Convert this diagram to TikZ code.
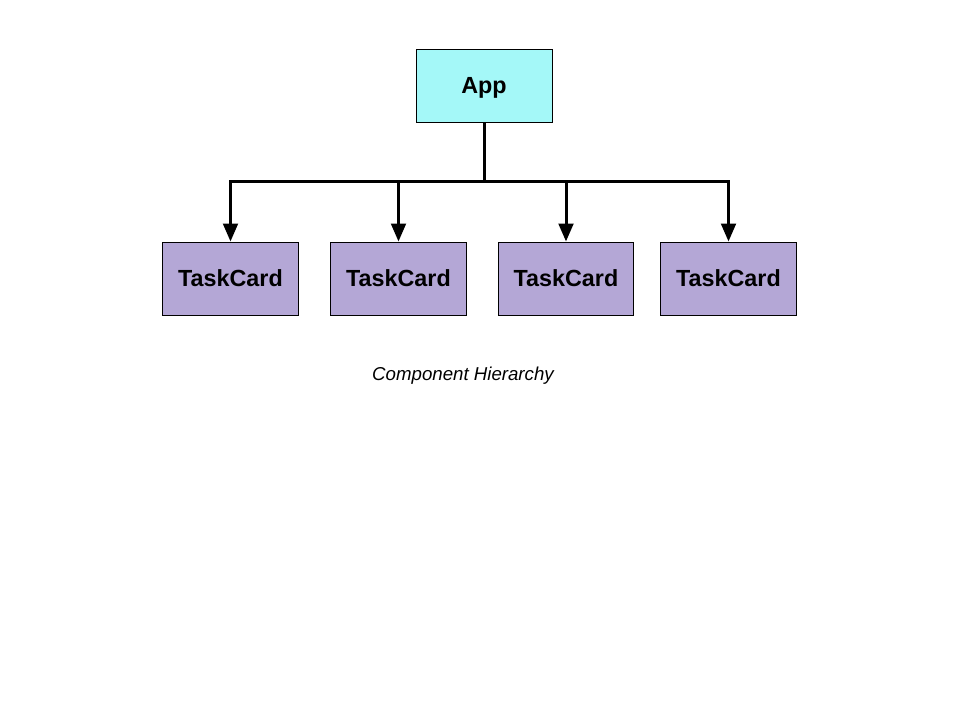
\documentclass[tikz,border=0pt]{standalone}
\usepackage{fontspec}
\setmainfont{Liberation Sans}
\usetikzlibrary{arrows.meta}
\definecolor{appfill}{HTML}{A4F8F8}
\definecolor{cardfill}{HTML}{B4A7D6}
\begin{document}
\begin{tikzpicture}[x=0.75pt,y=-0.75pt,
  box/.style={draw=black,line width=0.7pt,minimum width=101.5pt,minimum height=54.75pt,inner sep=0pt,text height=12.5pt,text depth=0pt,font=\fontsize{17.5}{20}\selectfont\bfseries},
  appbox/.style={box,fill=appfill,minimum width=102pt},
  cardbox/.style={box,fill=cardfill},
  conn/.style={line width=2.25pt,-{Triangle[width=11pt,length=13.5pt]}}]
\useasboundingbox[fill=white] (0,0) rectangle (960,720);
\node[appbox] (app) at (484,85.5) {App};
\node[cardbox] (c1) at (230.5,278.5) {TaskCard};
\node[cardbox] (c2) at (398.5,278.5) {TaskCard};
\node[cardbox] (c3) at (566,278.5) {TaskCard};
\node[cardbox] (c4) at (728.5,278.5) {TaskCard};
\coordinate (bus) at (484,182);
\draw[conn] (app.south) -- (bus) -| (c1.north);
\draw[conn] (app.south) -- (bus) -| (c2.north);
\draw[conn] (app.south) -- (bus) -| (c3.north);
\draw[conn] (app.south) -- (bus) -| (c4.north);
\node[font=\fontsize{14}{17}\selectfont\itshape] (cap) at (463,375.5) {Component Hierarchy};
\end{tikzpicture}
\end{document}
